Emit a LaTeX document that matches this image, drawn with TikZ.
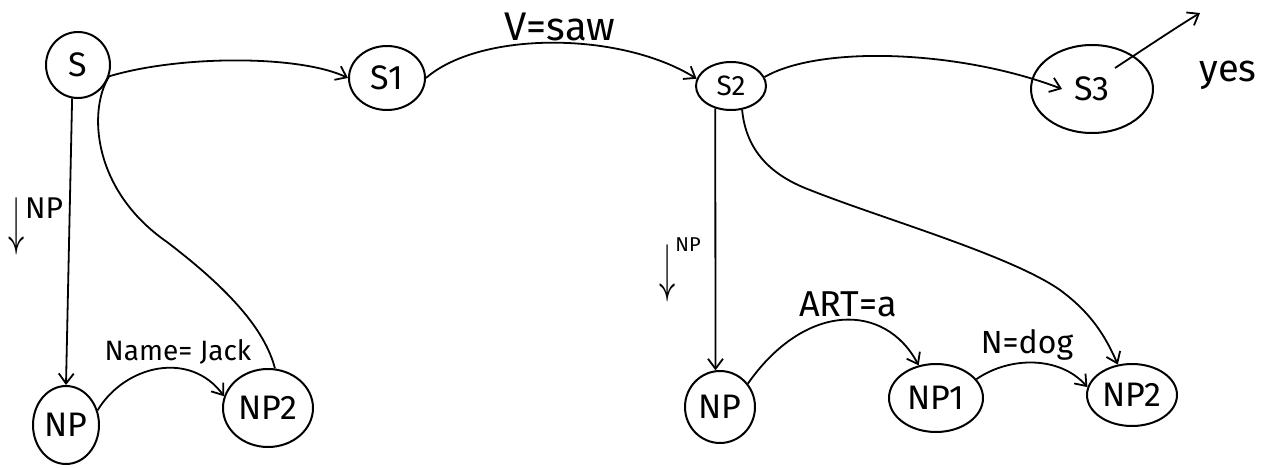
\documentclass[tikz,border=0pt]{standalone}
\usepackage{fontspec}
\setmainfont{Fira Sans}
\usetikzlibrary{shapes.geometric,arrows.meta}
\newcommand{\tallarrow}{\scalebox{1.3}[2.6]{\fontsize{24}{24}\selectfont$\downarrow$}}
\begin{document}
\begin{tikzpicture}[x=1pt,y=-1pt,
  st/.style={draw, ellipse, line width=2pt, inner sep=0pt, font=\fontsize{34}{34}\selectfont},
  arc/.style={line width=1.8pt, -{Straight Barb[length=10pt,width=15pt,line width=1.8pt]}},
  plain/.style={line width=1.8pt},
  lbl/.style={inner sep=0pt}]
\useasboundingbox (0,0) rectangle (1267,468);
% nodes
\node[st, minimum width=64pt, minimum height=66pt] (S) at (78,65) {S};
\node[st, minimum width=76pt, minimum height=64pt] (S1) at (387,78) {S1};
\node[st, minimum width=70pt, minimum height=48pt, font=\fontsize{28}{28}\selectfont] (S2) at (731,86) {S2};
\node[st, minimum width=122pt, minimum height=88pt] (S3) at (1092,89) {S3};
\node[st, minimum width=66pt, minimum height=78pt] (NPa) at (66,425) {NP};
\node[st, minimum width=90pt, minimum height=78pt] (NPb) at (268,408) {NP2};
\node[st, minimum width=70pt, minimum height=72pt] (NPc) at (720,407) {NP};
\node[st, minimum width=94pt, minimum height=68pt] (NPd) at (936,398) {NP1};
\node[st, minimum width=90pt, minimum height=62pt] (NPe) at (1132,395) {NP2};
\coordinate (yesend) at (1200,13);
% labels
\node[lbl, font=\fontsize{28}{28}\selectfont] (l1) at (178,352) {Name= Jack};
\node[lbl, font=\fontsize{40}{40}\selectfont] (l2) at (560,27) {V=saw};
\node[lbl, font=\fontsize{36}{36}\selectfont] (l3) at (848,304) {ART=a};
\node[lbl, font=\fontsize{32}{32}\selectfont] (l4) at (1027,345) {N=dog};
\node[lbl, font=\fontsize{38}{38}\selectfont] (yes) at (1228,75) {yes};
\node[lbl] (l5) at (36,226) {\tallarrow\raisebox{24pt}{\fontsize{30}{30}\selectfont NP}};
\node[lbl] (l6) at (680,270) {\tallarrow\raisebox{38pt}{\fontsize{20}{20}\selectfont NP}};
% connectors
\draw[arc] (S.-100) -- (NPa.north);
\draw[arc] (S.-20) .. controls (180,55) and (300,55) .. (S1.west);
\draw[plain] (S.-20) .. controls (88,110) and (92,190) .. (167,242) .. controls (230,290) and (265,330) .. (NPb.80);
\draw[arc] (NPa.25) .. controls (125,365) and (190,350) .. (NPb.165);
\draw[arc] (S1.east) .. controls (480,31) and (620,31) .. (S2.168);
\draw[arc] (S2.15) .. controls (820,45) and (960,50) .. ([xshift=-30pt]S3.center);
\draw[arc] ([xshift=23pt,yshift=21pt]S3.center) .. controls (1150,45) and (1180,25) .. (yesend);
\draw[arc] (S2.-125) -- (NPc.97);
\draw[arc] (S2.-65) .. controls (746,150) and (770,175) .. (810,190) .. controls (880,218) and (1010,255) .. (1060,290) .. controls (1090,312) and (1105,335) .. (NPe.115);
\draw[arc] (NPc.40) .. controls (805,302) and (885,302) .. (NPd.118);
\draw[arc] (NPd.25) .. controls (1010,356) and (1060,356) .. (NPe.170);
\end{tikzpicture}
\end{document}
